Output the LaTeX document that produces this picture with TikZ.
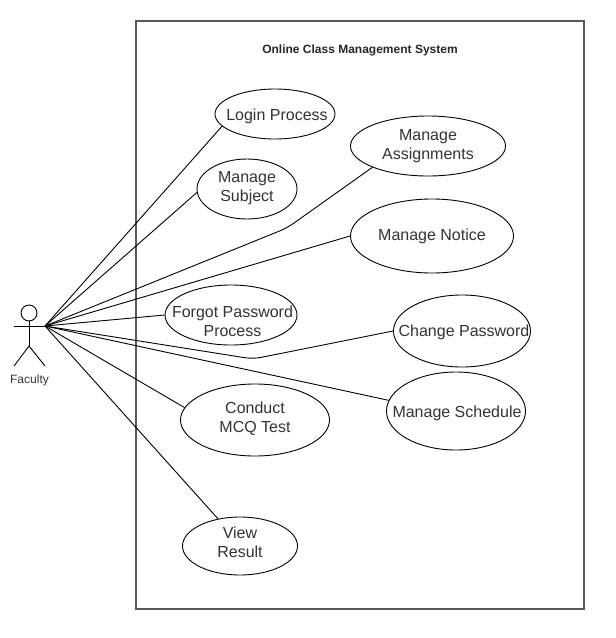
\documentclass[tikz,border=0pt]{standalone}
\usepackage{fontspec}
\setmainfont{Liberation Sans}
\usetikzlibrary{shapes.geometric}
\tikzset{
usecase/.style n args={3}{draw,ellipse,inner sep=0pt,label={[align=center,inner sep=0pt,shift={(#1,#2)},font=\fontsize{16}{18.8}\selectfont,text=black!80]center:#3}},
link/.style={draw,line width=0.9pt},
}
\begin{document}
\begin{tikzpicture}[x=1pt,y=-1pt,line width=0.9pt]
\useasboundingbox (0,0) rectangle (616,638);
\draw[black!65,line width=1.1pt](136,21) rectangle (584,609);
\node[font=\fontsize{12}{14}\selectfont\bfseries,text=black!85] (title) at (360,50.5) {Online Class Management System};
\node[usecase={2}{2.5}{Login Process},minimum width=120pt,minimum height=50pt] (login) at (275,114) {};
\node[usecase={0}{-0.5}{Manage\\Subject},minimum width=100pt,minimum height=60pt] (subject) at (247,189) {};
\node[usecase={0}{0.5}{Manage\\Assignments},minimum width=155pt,minimum height=60pt] (assign) at (428,146) {};
\node[usecase={0}{0.5}{Manage Notice},minimum width=163pt,minimum height=74pt] (notice) at (432,236) {};
\node[usecase={1.5}{6.5}{Forgot Password\\Process},minimum width=132pt,minimum height=60pt] (forgot) at (231,315) {};
\node[usecase={2}{1.5}{Change Password},minimum width=137pt,minimum height=72pt] (change) at (462,331) {};
\node[usecase={1}{2.5}{Manage Schedule},minimum width=139pt,minimum height=78pt] (schedule) at (456,411) {};
\node[usecase={0}{-1.5}{Conduct\\MCQ Test},minimum width=149pt,minimum height=72pt] (conduct) at (255,420) {};
\node[usecase={0}{-3.5}{View\\Result},minimum width=115pt,minimum height=58pt] (result) at (240,546) {};
% actor
\node[draw,circle,inner sep=0pt,minimum width=16pt] (head) at (29,313) {};
\coordinate (hip) at (29,346);
\coordinate (faculty) at (45,326);
\draw(head.south)--(hip);
\draw(14,326)--(faculty);
\draw(14,366)--(hip)--(45,366);
\node[font=\fontsize{12}{14}\selectfont,text=black!80] (name) at (29.5,380.5) {Faculty};
% links
\draw[link](faculty)--(login.193);
\draw[link](faculty)--(subject.184);
\draw[link,rounded corners=8pt](faculty)--(287,228)--(assign.201);
\draw[link](faculty)--(notice.west);
\draw[link](faculty)--(forgot.west);
\draw[link,rounded corners=8pt](faculty)--(253,359)--(change.west);
\draw[link](faculty)--(schedule.171);
\draw[link](faculty)--(conduct.170);
\draw[link](faculty)--(result.129);
\end{tikzpicture}
\end{document}
